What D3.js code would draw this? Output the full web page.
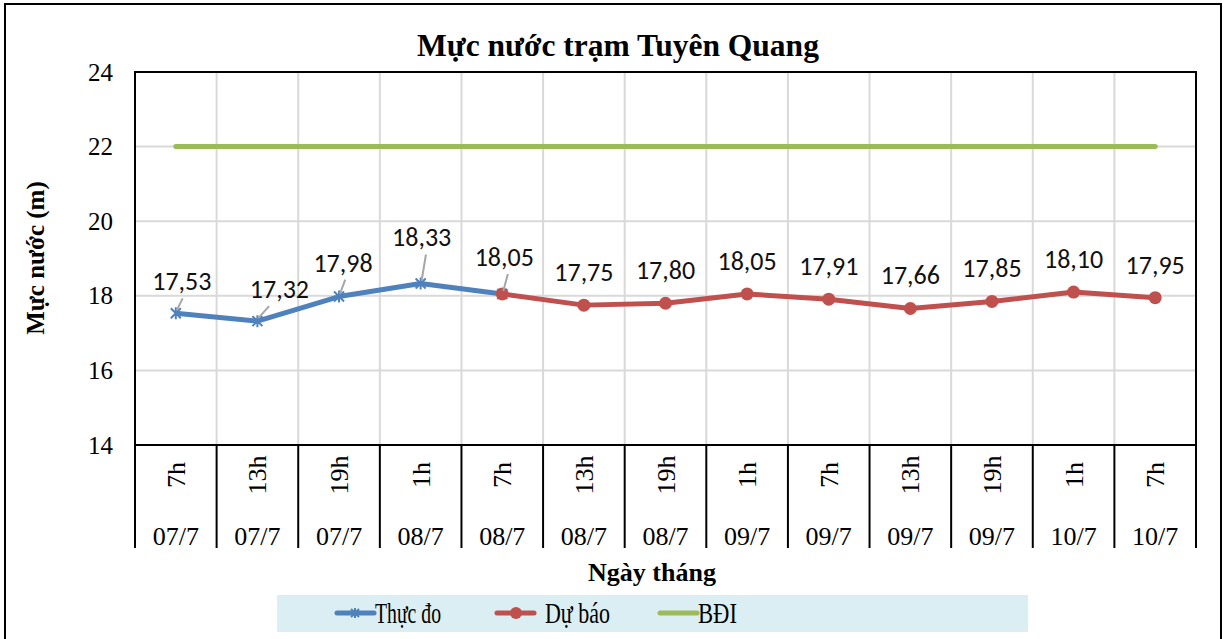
<!DOCTYPE html>
<html>
<head>
<meta charset="utf-8">
<script src="https://cdn.jsdelivr.net/npm/d3@7"></script>
<style>
	body { margin: 0; background: #fff; }
	svg { display: block; }
</style>
</head>
<body>
<div id="chart"></div>
<script>
const hours = ["7h", "13h", "19h", "1h", "7h", "13h", "19h", "1h", "7h", "13h", "19h", "1h", "7h"]
const dates = ["07/7", "07/7", "07/7", "08/7", "08/7", "08/7", "08/7", "09/7", "09/7", "09/7", "09/7", "10/7", "10/7"]
// measured (Thực đo): first 5 points
const measured = [17.53, 17.32, 17.98, 18.33, 18.05]
// forecast (Dự báo): starts at index 4
const forecast = [18.05, 17.75, 17.8, 18.05, 17.91, 17.66, 17.85, 18.1, 17.95]
const forecastStart = 4
const alarmLevel = 22
const yTicks = [14, 16, 18, 20, 22, 24]

const width = 1226
const height = 639
const margin = { top: 72, left: 135 }
const plotW = 1196 - margin.left
const plotH = 445 - margin.top

const blue = "#4F81BD"
const red = "#C0504D"
const green = "#9BBB59"
const serif = "'Liberation Serif', 'Times New Roman', serif"
const sans = "Carlito, 'Liberation Sans', Arial, sans-serif"

const svg = d3.select("#chart").append("svg").attr("width", width).attr("height", height)

svg.append("rect")
	.attr("x", 5).attr("y", 4).attr("width", 1216).attr("height", 700)
	.attr("fill", "#fff").attr("stroke", "#000").attr("stroke-width", 2)

svg.append("text")
	.attr("x", 618).attr("y", 56)
	.attr("text-anchor", "middle")
	.attr("font-family", serif).attr("font-weight", "bold").attr("font-size", 31.5)
	.text("Mực nước trạm Tuyên Quang")

const g = svg.append("g").attr("transform", `translate(${margin.left},${margin.top})`)

const idx = d3.range(hours.length)
const x = d3.scaleBand().domain(idx).range([0, plotW])
const cx = i => x(i) + x.bandwidth() / 2
const y = d3.scaleLinear().domain([14, 24]).range([plotH, 0])

// gridlines
g.append("g")
	.selectAll("line")
	.data(yTicks.slice(1, -1))
	.join("line")
	.attr("x1", 0).attr("x2", plotW)
	.attr("y1", d => y(d)).attr("y2", d => y(d))
	.attr("stroke", "#D9D9D9").attr("stroke-width", 2)

g.append("g")
	.selectAll("line")
	.data(idx.slice(1))
	.join("line")
	.attr("x1", d => x(d)).attr("x2", d => x(d))
	.attr("y1", 0).attr("y2", plotH)
	.attr("stroke", "#D9D9D9").attr("stroke-width", 2)

// category dividers below the plot
g.append("g")
	.selectAll("line")
	.data(idx.concat([hours.length]))
	.join("line")
	.attr("x1", d => (d === hours.length ? plotW : x(d)))
	.attr("x2", d => (d === hours.length ? plotW : x(d)))
	.attr("y1", plotH).attr("y2", plotH + 103)
	.attr("stroke", "#000").attr("stroke-width", 2)

// plot frame
g.append("rect")
	.attr("width", plotW).attr("height", plotH)
	.attr("fill", "none").attr("stroke", "#000").attr("stroke-width", 2)

// y axis
const yAxis = g.append("g")
	.attr("transform", "translate(-22,0)")
	.call(d3.axisLeft(y).tickValues(yTicks).tickSize(0).tickPadding(0))
yAxis.select(".domain").remove()
yAxis.selectAll("text")
	.attr("font-family", serif).attr("font-size", 25).attr("fill", "#000")

// x axis labels
const xl = g.append("g").attr("transform", `translate(0,${plotH})`)
xl.selectAll("text.h")
	.data(idx)
	.join("text")
	.attr("class", "h")
	.attr("transform", i => `translate(${cx(i) + 9},30) rotate(-90)`)
	.attr("text-anchor", "middle")
	.attr("font-family", serif).attr("font-size", 26)
	.text(i => hours[i])
xl.selectAll("text.d")
	.data(idx)
	.join("text")
	.attr("class", "d")
	.attr("x", i => cx(i)).attr("y", 100)
	.attr("text-anchor", "middle")
	.attr("font-family", serif).attr("font-size", 26)
	.text(i => dates[i])

svg.append("text")
	.attr("x", 652).attr("y", 581)
	.attr("text-anchor", "middle")
	.attr("font-family", serif).attr("font-weight", "bold").attr("font-size", 26)
	.text("Ngày tháng")

svg.append("text")
	.attr("transform", "translate(44,258) rotate(-90)")
	.attr("text-anchor", "middle")
	.attr("font-family", serif).attr("font-weight", "bold").attr("font-size", 25)
	.text("Mực nước (m)")

// series
const line = d3.line().x(d => cx(d.i)).y(d => y(d.v))

g.append("path")
	.datum(idx.map(i => ({ i, v: alarmLevel })))
	.attr("d", line)
	.attr("fill", "none").attr("stroke", green).attr("stroke-width", 5).attr("stroke-linecap", "round")

const measuredPts = measured.map((v, i) => ({ i, v }))
const forecastPts = forecast.map((v, k) => ({ i: k + forecastStart, v }))

g.append("path")
	.datum(measuredPts)
	.attr("d", line)
	.attr("fill", "none").attr("stroke", blue).attr("stroke-width", 5).attr("stroke-linejoin", "round")

const star = (sel, size) =>
	sel.append("path")
		.attr("d", `M${-size},${-size}L${size},${size}M${-size},${size}L${size},${-size}M0,${-size - 1}L0,${size + 1}`)
		.attr("stroke", blue).attr("stroke-width", 2).attr("fill", "none")

g.selectAll("g.star")
	.data(measuredPts)
	.join("g")
	.attr("class", "star")
	.attr("transform", d => `translate(${cx(d.i)},${y(d.v)})`)
	.each(function () { star(d3.select(this), 5) })

g.append("path")
	.datum(forecastPts)
	.attr("d", line)
	.attr("fill", "none").attr("stroke", red).attr("stroke-width", 5).attr("stroke-linejoin", "round")

g.selectAll("circle.fc")
	.data(forecastPts)
	.join("circle")
	.attr("class", "fc")
	.attr("cx", d => cx(d.i)).attr("cy", d => y(d.v))
	.attr("r", 6.5).attr("fill", red)

// data labels
const fmt = v => d3.format(".2f")(v).replace(".", ",")
const labelPts = measuredPts.concat(forecastPts.slice(1))
// leader-line labels for measured series, plain labels above for forecast
const nudge = [[6, -32], [22, -32], [4, -34], [1, -46], [2, -37]]

labelPts.forEach((d, k) => {
	const px = cx(d.i)
	const py = y(d.v)
	const [dx, dy] = k < nudge.length ? nudge[k] : [0, -33]
	if (k < nudge.length) {
		g.append("line")
			.attr("x1", px + 1).attr("y1", py - 3)
			.attr("x2", px + dx * 0.3 + 5).attr("y2", py + dy + 17)
			.attr("stroke", "#A6A6A6").attr("stroke-width", 2)
	}
	g.append("text")
		.attr("x", px + dx).attr("y", py + dy + 9)
		.attr("text-anchor", "middle")
		.attr("font-family", sans).attr("font-size", 26).attr("fill", "#111")
		.text(fmt(d.v))
})

// legend
const lg = svg.append("g").attr("transform", "translate(277,595)")
lg.append("rect").attr("width", 751).attr("height", 37).attr("fill", "#DAEEF3")

const legendItems = [
	{ name: "Thực đo", color: blue, x: 60, marker: "star", tx: 38, len: 66 },
	{ name: "Dự báo", color: red, x: 220, marker: "circle", tx: 48, len: 65 },
	{ name: "BĐI", color: green, x: 383, marker: null, tx: 38, len: 39 }
]
legendItems.forEach(d => {
	const it = lg.append("g").attr("transform", `translate(${d.x},18)`)
	it.append("line").attr("x1", 0).attr("x2", 37)
		.attr("stroke", d.color).attr("stroke-width", 5).attr("stroke-linecap", "round")
	if (d.marker === "star") {
		const s = it.append("g").attr("transform", "translate(18,0)")
		star(s, 4)
	} else if (d.marker === "circle") {
		it.append("circle").attr("cx", 19).attr("r", 6).attr("fill", d.color)
	}
	it.append("text")
		.attr("x", d.tx).attr("y", 10)
		.attr("font-family", serif).attr("font-size", 29)
		.attr("textLength", d.len).attr("lengthAdjust", "spacingAndGlyphs")
		.text(d.name)
})
</script>
</body>
</html>
